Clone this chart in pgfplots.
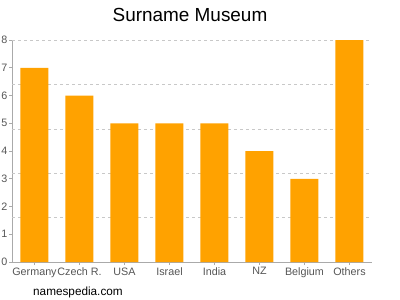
\documentclass[border=0pt]{standalone}
\usepackage{pgfplots}
\pgfplotsset{compat=1.18}
\usepackage{fontspec}
\setmainfont{Liberation Sans}
\definecolor{barorange}{HTML}{FFA200}
\definecolor{axisgray}{HTML}{AAAAAA}
\definecolor{gridgray}{HTML}{C8C8C8}
\definecolor{labgray}{HTML}{555555}
\begin{document}
\begin{tikzpicture}[x=1bp,y=1bp]
\path[use as bounding box] (0,0) rectangle (400,300);
\node[font=\fontsize{19}{20}\selectfont, anchor=center] at (190,285) {Surname Museum};
\node[font=\fontsize{11.8}{13}\selectfont, anchor=base west, inner sep=0pt] at (33,5) {namespedia.com};
\begin{axis}[
  at={(12bp,38bp)}, anchor=south west,
  scale only axis, width=360bp, height=222bp,
  xmin=-0.5, xmax=7.5, ymin=0, ymax=8,
  xtick={0,...,7},
  xticklabels={Germany,Czech R.,USA,Israel,India,NZ,Belgium,Others},
  ytick={0,...,8},
  extra y ticks={1.6,3.2,4.8,6.4,8},
  extra y tick labels={},
  extra y tick style={grid=major, major grid style={gridgray, dash pattern=on 3bp off 3bp, line width=0.6pt}, major tick length=0pt},
  axis x line*=bottom, axis y line*=left,
  axis line style={axisgray, line width=0.6pt},
  tick style={axisgray, line width=0.6pt},
  major tick length=3bp,
  tick align=outside,
  xtick pos=bottom, ytick pos=left,
  ticklabel style={font=\fontsize{10.8}{11}\selectfont, text=labgray},
  xticklabel style={yshift=1bp},
  yticklabel style={xshift=2bp},
  /pgf/number format/assume math mode=true,
  clip=false,
]
\addplot[ybar, bar width=28bp, fill=barorange, draw=none] coordinates {
 (0,7) (1,6) (2,5) (3,5) (4,5) (5,4) (6,3) (7,8)
};
\end{axis}
\end{tikzpicture}
\end{document}
